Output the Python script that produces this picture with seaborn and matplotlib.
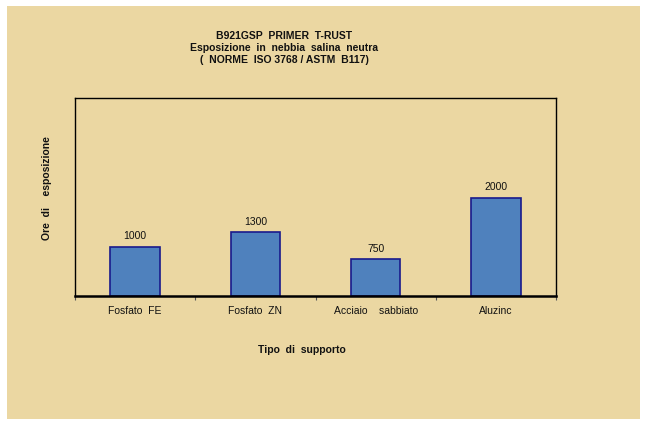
import matplotlib
matplotlib.use("Agg")
import matplotlib.pyplot as plt
import seaborn as sns
import pandas as pd
from matplotlib.patches import Rectangle

categories = ["Fosfato  FE", "Fosfato  ZN", "Acciaio    sabbiato", "Aluzinc"]
values = [1000, 1300, 750, 2000]
title_lines = ["B921GSP  PRIMER  T-RUST",
               "Esposizione  in  nebbia  salina  neutra",
               "(  NORME  ISO 3768 / ASTM  B117)"]
xlabel = "Tipo  di  supporto"
ylabel = "Ore  di    esposizione"

sns.set_theme(style="white")
plt.rcParams['font.family'] = ['Liberation Sans', 'DejaVu Sans']

W, H = 645, 423
fig = plt.figure(figsize=(W / 100, H / 100), dpi=100)
fig.patch.set_facecolor("white")
bg = "#ebd7a2"
fig.patches.append(Rectangle((7 / W, 1 - 419 / H), 633 / W, 413 / H,
                             transform=fig.transFigure, facecolor=bg,
                             edgecolor="none", zorder=-10))

left, right, top, bottom = 75, 556, 98.5, 296
ax = fig.add_axes([left / W, 1 - bottom / H, (right - left) / W, (bottom - top) / H])
ax.set_facecolor("none")
ax.set_zorder(5)

df = pd.DataFrame({"cat": categories, "val": values})
sns.barplot(data=df, x="cat", y="val", ax=ax, color="#4f81bd", width=0.41,
            edgecolor="#1a1a8c", linewidth=1.2, saturation=1)
ax.set_ylim(0, 4030)
ax.set_xlim(-0.5, len(categories) - 0.5)
for c in ax.containers:
    ax.bar_label(c, labels=[str(v) for v in values], padding=4, fontsize=7.5, color="#111111")

ax.set_yticks([])
ax.set_xticks(range(len(categories)))
ax.set_xticklabels(categories, fontsize=7.5, color="#111111")
ax.tick_params(axis="x", which="major", length=0, pad=7)
ax.set_xticks([i - 0.5 for i in range(len(categories) + 1)], minor=True)
ax.tick_params(axis="x", which="minor", length=3, width=0.8, color="#555555",
               direction="out", bottom=True)
for s in ax.spines.values():
    s.set_visible(True)
    s.set_color("black")
    s.set_linewidth(1.0)
ax.spines["bottom"].set_linewidth(1.8)
ax.set_xlabel("")
ax.set_ylabel("")

fig.text(302 / W, 1 - 350 / H, xlabel, ha="center", va="center", fontsize=7.5,
         fontweight="bold", color="#111111")
fig.text(47 / W, 1 - 188 / H, ylabel, ha="center", va="center", rotation=90,
         fontsize=7.5, fontweight="bold", color="#111111")
for i, line in enumerate(title_lines):
    fig.text(284 / W, 1 - (36 + 12 * i) / H, line, ha="center", va="center",
             fontsize=7.5, fontweight="bold", color="#111111")

fig.savefig("out.png", dpi=100, facecolor="white")
